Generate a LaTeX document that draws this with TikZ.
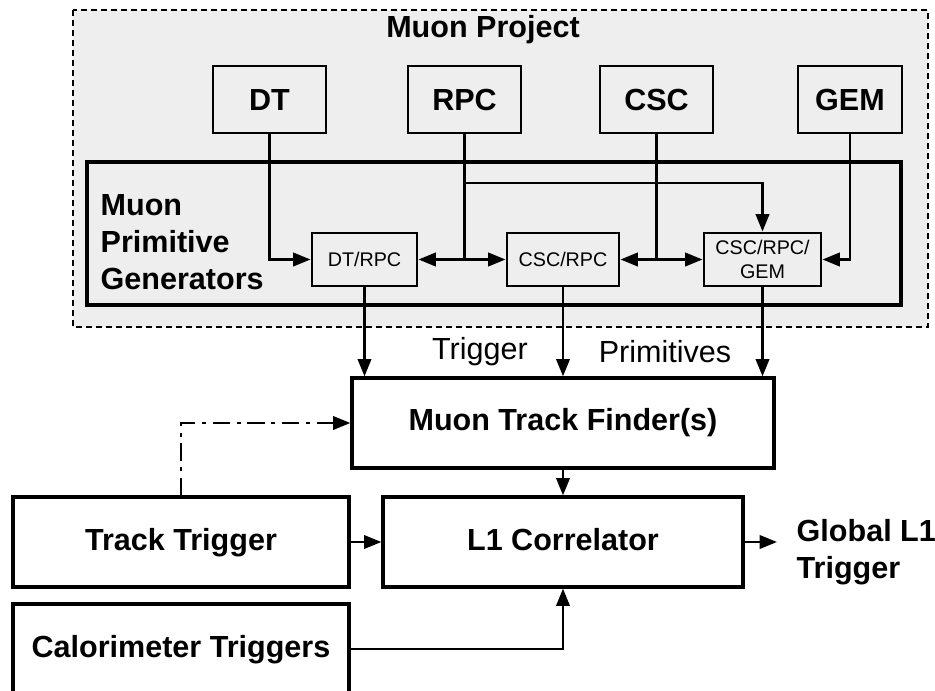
\documentclass[tikz,border=0pt]{standalone}
\usepackage{fontspec}
\setmainfont{Liberation Sans}
\usepackage{xcolor}
\usetikzlibrary{positioning,arrows.meta,calc}
\definecolor{areagray}{HTML}{EEEEEE}
\tikzset{
big/.style={
font=\fontsize{22.9pt}{27.75pt}\selectfont\bfseries
},
note/.style={
font=\fontsize{22.9pt}{27.75pt}\selectfont
},
sensor/.style={
draw,
line width=1.6pt,
fill=areagray,
minimum width=84.75pt,
minimum height=50.25pt,
inner sep=0pt,
text height=16.4pt,
text depth=0pt,
big
},
prim/.style={
draw,
line width=2.2pt,
fill=areagray,
minimum width=84pt,
minimum height=39.75pt,
inner sep=0pt,
align=center,
font=\fontsize{14.8pt}{18pt}\selectfont
},
block/.style={
draw,
line width=2.4pt,
minimum width=252pt,
minimum height=67.5pt,
inner sep=0pt,
text height=12pt,
text depth=0pt,
big
},
project/.style={
draw,
dashed,
dash pattern=on 4.5pt off 3pt,
line width=1.1pt,
fill=areagray
},
genbox/.style={
draw,
line width=2.4pt
},
line/.style={
line width=2pt
},
arrow/.style={
-{Triangle[length=13pt,width=10pt]},
line width=2pt
},
dblarrow/.style={
{Triangle[length=13pt,width=10pt]}-{Triangle[length=13pt,width=10pt]},
line width=2pt
},
dashdot/.style={
dash pattern=on 13pt off 5pt on 3pt off 5pt
}
}

\begin{document}
\begin{tikzpicture}[x=0.75pt,y=-0.75pt]
\useasboundingbox (0,0) rectangle (935,691);
\clip (0,0) rectangle (935,691);

% muon project area
\draw[project] (73,10) rectangle (928,327);
\node[big,anchor=base] (title) at (483,38) {Muon Project};

\node[sensor] (dt) at (269.5,99.5) {DT};
\node[sensor] (rpc) at (464.5,99.5) {RPC};
\node[sensor] (csc) at (656.5,99.5) {CSC};
\node[sensor,minimum width=78pt] (gem) at (850,99.5) {GEM};

% primitive generators
\draw[genbox] (87,162) rectangle (901,305);
\node[big,align=left,anchor=west] (mpg) at (96,242) {Muon\\Primitive\\Generators};

\node[prim,minimum width=78.75pt] (dtrpc) at (364.5,259.5) {DT/RPC};
\node[prim] (cscrpc) at (563,259.5) {CSC/RPC};
\node[prim,minimum width=87.75pt] (crg) at (762.5,259.5) {CSC/RPC/\\GEM};

\draw[arrow] (dt.south) |- (dtrpc.west);
\draw[line] (rpc.south) -- (rpc.south |- dtrpc.east);
\draw[dblarrow] (dtrpc.east) -- (cscrpc.west);
\coordinate (split) at (464.5,183);
\draw[arrow] (split) -| (crg.north);
\draw[line] (csc.south) -- (csc.south |- cscrpc.east);
\draw[dblarrow] (cscrpc.east) -- (crg.west);
\draw[arrow] (gem.south) |- (crg.east);

% trigger chain
\node[block,minimum width=316.5pt] (tf) at (563,423) {Muon Track Finder(s)};
\node[block,minimum width=270pt] (l1) at (563,542) {L1 Correlator};
\node[block] (tt) at (181,542) {Track Trigger};
\node[block] (calo) at (181,649) {Calorimeter Triggers};

\foreach \g in {dtrpc,cscrpc,crg}
\draw[arrow](\g.south)--(\g.south |- tf.north);
\node[note] (trig) at (480,352) {Trigger};
\node[note] (prims) at (665,352) {Primitives};

\draw[arrow](tf)--(l1);
\draw[arrow](tt)--(l1);
\draw[arrow,dashdot](tt.north) |- (tf.west);
\draw[arrow](calo.east) -| (l1.south);
\coordinate (out) at (777,542);
\draw[arrow](l1.east)--(out);
\node[big,align=left,anchor=west] (glob) at (792,552) {Global L1\\Trigger};
\end{tikzpicture}
\end{document}
